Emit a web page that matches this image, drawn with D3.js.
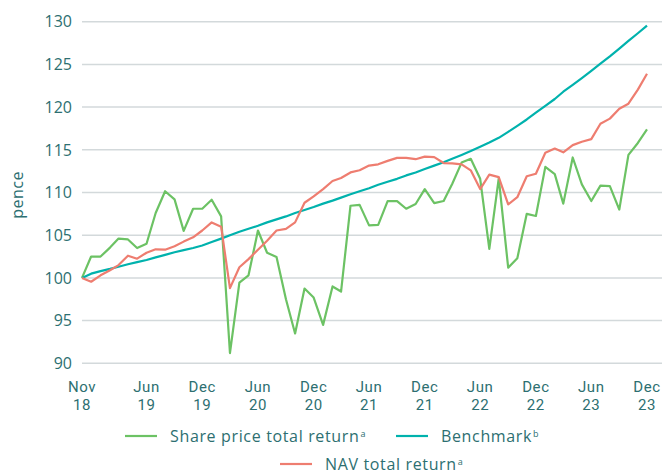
<!DOCTYPE html>
<html>
<head>
<meta charset="utf-8">
<script src="https://cdn.jsdelivr.net/npm/d3@7"></script>
<style>
  body { margin: 0; background: #fff; }
  text { font-family: "Open Sans", "Noto Sans", sans-serif; fill: #2d6f71; }
  .x-tick { font-family: Roboto, "Open Sans", sans-serif; }
</style>
</head>
<body>
<div id="chart"></div>
<script>
// Monthly points, Nov 2018 .. Dec 2023
const startMonth = new Date(2018, 10, 1);
const endMonth = new Date(2024, 0, 1);

const sharePrice = [
  100.0, 102.5, 102.5, 103.55, 104.6, 104.5, 103.5, 104.0, 107.6, 110.15,
  109.2, 105.5, 108.1, 108.1, 109.15, 107.2, 91.2, 99.45, 100.3, 105.55,
  102.95, 102.45, 97.5, 93.5, 98.75, 97.7, 94.5, 99.0, 98.4, 108.45,
  108.55, 106.15, 106.2, 109.0, 109.0, 108.1, 108.65, 110.4, 108.75, 109.0,
  111.0, 113.5, 113.95, 111.6, 103.4, 111.65, 101.2, 102.3, 107.5, 107.25,
  113.0, 112.15, 108.7, 114.1, 110.95, 109.0, 110.8, 110.75, 108.0, 114.4,
  115.8, 117.4
];

const benchmark = [
  100.0, 100.5, 100.8, 101.05, 101.3, 101.6, 101.85, 102.1, 102.4, 102.7,
  103.0, 103.25, 103.5, 103.8, 104.2, 104.6, 105.0, 105.4, 105.75, 106.1,
  106.5, 106.85, 107.2, 107.6, 107.95, 108.3, 108.7, 109.05, 109.4, 109.8,
  110.15, 110.5, 110.9, 111.25, 111.6, 112.0, 112.35, 112.75, 113.15, 113.55,
  113.95, 114.4, 114.85, 115.35, 115.85, 116.4, 117.1, 117.8, 118.55, 119.35,
  120.15, 120.95, 121.8, 122.6, 123.4, 124.25, 125.1, 125.95, 126.85, 127.75,
  128.65, 129.55
];

const navReturn = [
  100.0, 99.55, 100.3, 100.9, 101.5, 102.6, 102.25, 102.95, 103.35, 103.3,
  103.7, 104.25, 104.75, 105.55, 106.5, 106.0, 98.8, 101.25, 102.2, 103.3,
  104.35, 105.55, 105.75, 106.5, 108.8, 109.55, 110.4, 111.35, 111.7, 112.35,
  112.6, 113.15, 113.3, 113.7, 114.05, 114.05, 113.9, 114.2, 114.15, 113.45,
  113.4, 113.3, 112.6, 110.4, 112.1, 111.8, 108.6, 109.45, 111.9, 112.2,
  114.65, 115.15, 114.7, 115.55, 115.95, 116.25, 118.05, 118.65, 119.8, 120.4,
  122.05, 123.9
];

const yTicks = [90, 95, 100, 105, 110, 115, 120, 125, 130];
const xTickMonths = ["Nov", "Jun", "Dec", "Jun", "Dec", "Jun", "Dec", "Jun", "Dec", "Jun", "Dec"];
const xTickYears = ["18", "19", "19", "20", "20", "21", "21", "22", "22", "23", "23"];
const xTickDates = [
  new Date(2018, 10, 1), new Date(2019, 5, 1), new Date(2019, 11, 1),
  new Date(2020, 5, 1), new Date(2020, 11, 1), new Date(2021, 5, 1),
  new Date(2021, 11, 1), new Date(2022, 5, 1), new Date(2022, 11, 1),
  new Date(2023, 5, 1), new Date(2023, 11, 1)
];

const seriesNames = ["Share price total return", "Benchmark", "NAV total return"];
const seriesMarks = ["a", "b", "a"];
const seriesColors = ["#6cc264", "#00b2ad", "#ee7d70"];

const months = d3.timeMonth.range(startMonth, endMonth);

const width = 662;
const height = 474;

const svg = d3.select("#chart")
  .append("svg")
  .attr("width", width)
  .attr("height", height);

// Scales
const x = d3.scaleTime()
  .domain([months[0], months[months.length - 1]])
  .range([82, 647]);

const y = d3.scaleLinear()
  .domain([90, 130])
  .range([363.3, 21.7]);

// Gridlines + y labels
const yAxis = svg.append("g");
yAxis.selectAll("line")
  .data(yTicks)
  .enter()
  .append("line")
  .attr("x1", 82)
  .attr("x2", width)
  .attr("y1", d => y(d))
  .attr("y2", d => y(d))
  .attr("stroke", "#d3d9db")
  .attr("stroke-width", 1.5);

yAxis.selectAll("text")
  .data(yTicks)
  .enter()
  .append("text")
  .attr("x", 72)
  .attr("y", d => y(d))
  .attr("dy", "0.36em")
  .attr("text-anchor", "end")
  .style("font-size", "16px")
  .text(d => d);

svg.append("text")
  .attr("transform", `translate(23, 195) rotate(-90)`)
  .attr("text-anchor", "middle")
  .style("font-size", "16px")
  .style("letter-spacing", "0.5px")
  .text("pence");

// X tick labels (two lines)
const xLab = svg.append("g")
  .selectAll("text")
  .data(xTickDates)
  .enter()
  .append("text")
  .attr("class", "x-tick")
  .attr("x", d => x(d))
  .attr("text-anchor", "middle")
  .style("font-size", "15px")
  .style("letter-spacing", "0.6px");

xLab.append("tspan")
  .attr("x", d => x(d))
  .attr("y", 391.5)
  .text((d, i) => xTickMonths[i]);

xLab.append("tspan")
  .attr("x", d => x(d))
  .attr("y", 409.5)
  .text((d, i) => xTickYears[i]);

// Lines
const line = d3.line()
  .x((d, i) => x(months[i]))
  .y(d => y(d));

[sharePrice, benchmark, navReturn].forEach((series, k) => {
  svg.append("path")
    .datum(series)
    .attr("fill", "none")
    .attr("stroke", seriesColors[k])
    .attr("stroke-width", 2.2)
    .attr("stroke-linejoin", "round")
    .attr("d", line);
});

// Legend
const legendPos = [
  { x: 125, y: 436 },
  { x: 396, y: 436 },
  { x: 280, y: 464 }
];

const legendItem = svg.append("g")
  .selectAll("g")
  .data(seriesNames)
  .enter()
  .append("g")
  .attr("transform", (d, i) => `translate(${legendPos[i].x}, ${legendPos[i].y})`);

legendItem.append("line")
  .attr("x1", 0)
  .attr("x2", 32)
  .attr("stroke", (d, i) => seriesColors[i])
  .attr("stroke-width", 2.2);

const legendText = legendItem.append("text")
  .attr("x", 45)
  .attr("dy", "0.36em")
  .style("font-size", "16px")
  .style("letter-spacing", "0.65px");

legendText.append("tspan").text(d => d);
legendText.append("tspan")
  .attr("dx", 1)
  .attr("dy", -5)
  .style("font-size", "9px")
  .text((d, i) => seriesMarks[i]);
</script>
</body>
</html>
